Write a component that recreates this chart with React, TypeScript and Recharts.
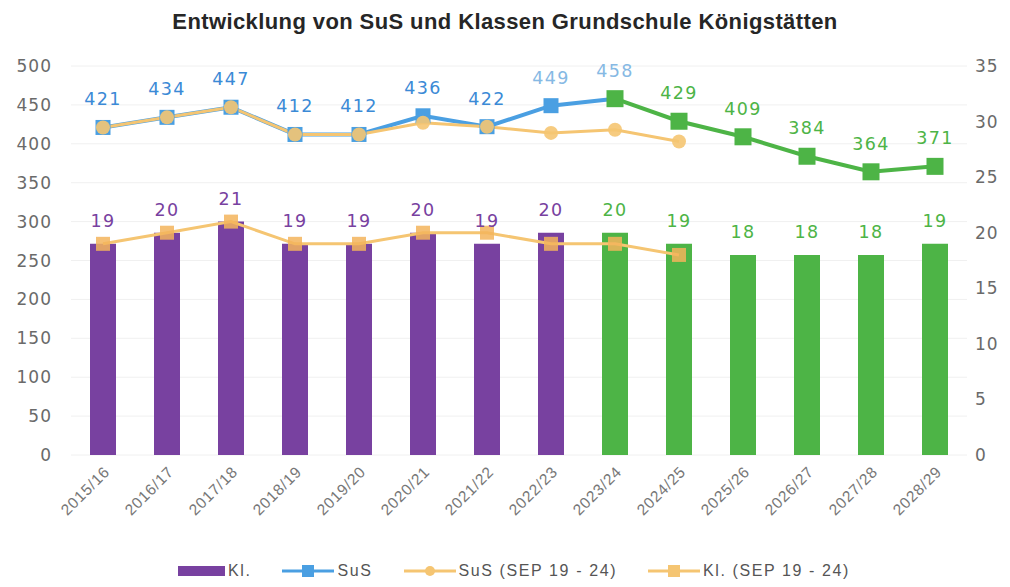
import React from 'react';
import { ComposedChart, Bar, Line, XAxis, YAxis, CartesianGrid, Cell, LabelList } from 'recharts';

const years = [
  '2015/16', '2016/17', '2017/18', '2018/19', '2019/20', '2020/21', '2021/22',
  '2022/23', '2023/24', '2024/25', '2025/26', '2026/27', '2027/28', '2028/29',
];
// Kl. = Klassen, SuS = Schülerinnen und Schüler
const classes = [19, 20, 21, 19, 19, 20, 19, 20, 20, 19, 18, 18, 18, 19];
const pupils = [421, 434, 447, 412, 412, 436, 422, 449, 458, 429, 409, 384, 364, 371];
// SEP 19 - 24 (Schulentwicklungsplan), only until 2024/25
const pupilsSep = [421, 434, 447, 412, 412, 427, 422, 414, 418, 403];
const classesSep = [19, 20, 21, 19, 19, 20, 20, 19, 19, 18];
const forecastStart = 8; // 2023/24 -> green

const leftTicks = [0, 50, 100, 150, 200, 250, 300, 350, 400, 450, 500];
const rightTicks = [0, 5, 10, 15, 20, 25, 30, 35];

const PURPLE = '#7841a0';
const GREEN = '#4db446';
const BLUE = '#4a9fe2';
const BLUE_LABEL = '#3b8ad6';
const BLUE_LIGHT = '#86b9e4';
const ORANGE = '#f5c572';
const NUM_FONT = '"DejaVu Sans", sans-serif';
const TEXT_FONT = '"Liberation Sans", Arial, sans-serif';

const data = years.map((year, i) => ({
  year,
  kl: classes[i],
  susIst: i <= forecastStart ? pupils[i] : null,
  susProg: i >= forecastStart ? pupils[i] : null,
  susSep: i < pupilsSep.length ? pupilsSep[i] : null,
  klSep: i < classesSep.length ? classesSep[i] : null,
}));

const squareDot = (fill: string, size: number, opacity = 1) => (props: any) => {
  const { cx, cy, index } = props;
  if (cx == null || cy == null || Number.isNaN(cy)) return <g key={index} />;
  return (
    <rect key={index} x={cx - size / 2} y={cy - size / 2} width={size} height={size}
      fill={fill} fillOpacity={opacity} />
  );
};

const circleDot = (fill: string, r: number) => (props: any) => {
  const { cx, cy, index } = props;
  if (cx == null || cy == null || Number.isNaN(cy)) return <g key={index} />;
  return <circle key={index} cx={cx} cy={cy} r={r} fill={fill} fillOpacity={0.9} />;
};

const numLabel = (x: number, y: number, value: any, color: string, key: any) => (
  <text key={key} x={x} y={y} textAnchor="middle" fill={color}
    style={{ fontFamily: NUM_FONT, fontSize: 17.5, letterSpacing: 1.3 }}>
    {value}
  </text>
);

const barLabel = (props: any) => {
  const { x, y, width, value, index } = props;
  const color = index < forecastStart ? PURPLE : GREEN;
  return numLabel(x + width / 2, y - 17, value, color, index);
};

const istLabel = (props: any) => {
  const { x, y, value, index } = props;
  if (value == null) return null;
  const color = index >= 7 ? BLUE_LIGHT : BLUE_LABEL;
  return numLabel(x, y - 22, value, color, index);
};

const progLabel = (props: any) => {
  const { x, y, value, index } = props;
  if (value == null || index === forecastStart) return null;
  return numLabel(x, y - 22, value, GREEN, index);
};

const LegendItem = ({ icon, text }: { icon: React.ReactNode; text: string }) => (
  <div style={{ display: 'flex', alignItems: 'center' }}>
    {icon}
    <span style={{ marginLeft: 3 }}>{text}</span>
  </div>
);

const lineIcon = (color: string, marker: 'square' | 'circle') => (
  <svg width={52} height={14}>
    <line x1={0} y1={7} x2={52} y2={7} stroke={color} strokeWidth={3} />
    {marker === 'square'
      ? <rect x={20} y={1} width={12} height={12} fill={color} />
      : <circle cx={26} cy={7} r={5} fill={color} />}
  </svg>
);

export default function App() {
  return (
    <div style={{ position: 'absolute', left: 0, top: 0, width: 1010, height: 587, background: '#fff' }}>
      <div style={{
        position: 'absolute', top: 9, left: 0, width: 1010, textAlign: 'center',
        fontFamily: TEXT_FONT, fontSize: 22, fontWeight: 'bold', letterSpacing: 0.4, color: '#262626',
      }}>
        Entwicklung von SuS und Klassen Grundschule Königstätten
      </div>
      <div style={{ position: 'absolute', left: 0, top: 0 }}>
        <ComposedChart width={1010} height={587} data={data}
          margin={{ top: 66, right: 3, bottom: 62, left: 0 }} barSize={26}>
          <CartesianGrid yAxisId="left" vertical={false} stroke="#f0f0f0" />
          <XAxis dataKey="year" interval={0} tickLine={false} axisLine={false} height={70}
            angle={-45} textAnchor="end" tickMargin={4}
            tick={{ fill: '#777', fontSize: 15.5, fontFamily: TEXT_FONT, letterSpacing: 0.8 }} />
          <YAxis yAxisId="left" domain={[0, 500]} ticks={leftTicks} width={71}
            tickLine={false} axisLine={false} tickMargin={13}
            tick={{ fill: '#6a6a6a', fontSize: 17, fontFamily: NUM_FONT, letterSpacing: 1 }} />
          <YAxis yAxisId="right" orientation="right" domain={[0, 35]} ticks={rightTicks} width={40}
            tickLine={false} axisLine={false} tickMargin={2}
            tick={{ fill: '#6a6a6a', fontSize: 17, fontFamily: NUM_FONT, letterSpacing: 1, textAnchor: 'start' }} />
          <Bar yAxisId="right" dataKey="kl" name="Kl." fill={PURPLE} isAnimationActive={false}>
            {data.map((d, i) => (
              <Cell key={d.year} fill={i < forecastStart ? PURPLE : GREEN} />
            ))}
            <LabelList dataKey="kl" content={barLabel} />
          </Bar>
          <Line yAxisId="left" dataKey="susIst" name="SuS" stroke={BLUE} strokeWidth={4}
            dot={squareDot(BLUE, 15)} activeDot={false} isAnimationActive={false}>
            <LabelList dataKey="susIst" content={istLabel} />
          </Line>
          <Line yAxisId="left" dataKey="susProg" name="SuS Prognose" stroke={GREEN} strokeWidth={4}
            dot={squareDot(GREEN, 17)} activeDot={false} isAnimationActive={false} legendType="none">
            <LabelList dataKey="susProg" content={progLabel} />
          </Line>
          <Line yAxisId="left" dataKey="susSep" name="SuS (SEP 19 - 24)" stroke={ORANGE} strokeWidth={3}
            dot={circleDot(ORANGE, 7)} activeDot={false} isAnimationActive={false} />
          <Line yAxisId="right" dataKey="klSep" name="Kl. (SEP 19 - 24)" stroke={ORANGE} strokeWidth={3}
            dot={squareDot('#f3b45c', 14, 0.85)} activeDot={false} isAnimationActive={false} />
        </ComposedChart>
      </div>
      <div style={{
        position: 'absolute', top: 562, left: 178, display: 'flex', gap: 31, alignItems: 'center',
        fontFamily: TEXT_FONT, fontSize: 16, letterSpacing: 1.6, color: '#555',
      }}>
        <LegendItem icon={<svg width={47} height={10}><rect width={47} height={10} fill={PURPLE} /></svg>} text="Kl." />
        <LegendItem icon={lineIcon(BLUE, 'square')} text="SuS" />
        <LegendItem icon={lineIcon(ORANGE, 'circle')} text="SuS (SEP 19 - 24)" />
        <LegendItem icon={lineIcon(ORANGE, 'square')} text="Kl. (SEP 19 - 24)" />
      </div>
    </div>
  );
}
